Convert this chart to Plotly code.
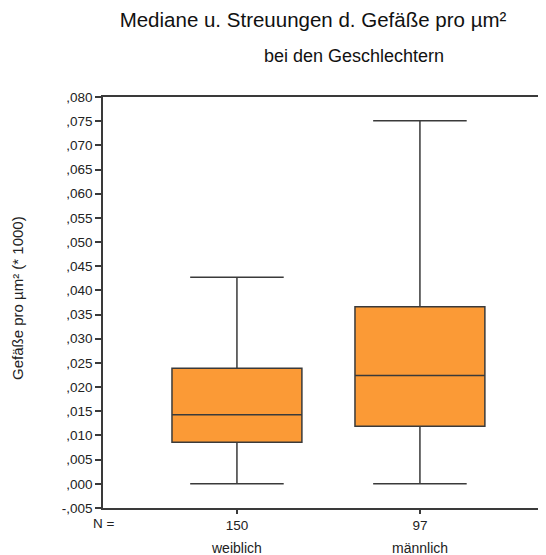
import plotly.graph_objects as go

categories = ["weiblich", "männlich"]
n_values = ["150", "97"]
lower_whisker = [0.0, 0.0]
q1_values = [0.0086, 0.0119]
median_values = [0.0143, 0.0224]
q3_values = [0.0239, 0.0366]
upper_whisker = [0.0427, 0.0751]
y_tick_vals = [-0.005, 0.0, 0.005, 0.010, 0.015, 0.020, 0.025, 0.030, 0.035,
               0.040, 0.045, 0.050, 0.055, 0.060, 0.065, 0.070, 0.075, 0.080]
y_tick_text = ["-,005", ",000", ",005", ",010", ",015", ",020", ",025", ",030", ",035",
               ",040", ",045", ",050", ",055", ",060", ",065", ",070", ",075", ",080"]

FONT = "Liberation Sans, Arial, sans-serif"
LINE = "#3a3a3a"

# page body has an 8px margin, so the figure is 8px smaller and shifted
W, H = 538, 547
L, T, B = 95, 89, 47
PH = H - T - B

fig = go.Figure()
fig.add_trace(go.Box(
    x=categories,
    q1=q1_values, median=median_values, q3=q3_values,
    lowerfence=lower_whisker, upperfence=upper_whisker,
    fillcolor="#fb9a36",
    line=dict(color=LINE, width=1.5),
    width=0.71,
    whiskerwidth=0.72,
    boxpoints=False,
    showlegend=False,
    hoverinfo="skip",
))

for c in categories:
    fig.add_annotation(x=c, xref="x", y=-0.005, yref="y", yshift=-40,
                       text=c, showarrow=False, yanchor="middle",
                       font=dict(family=FONT, size=14, color="#222"))

fig.add_annotation(x=0, xref="paper", y=-0.005, yref="y", yshift=-15,
                   xanchor="center", xshift=1,
                   text="N =", showarrow=False, yanchor="middle",
                   font=dict(family=FONT, size=13.5, color="#222"))

fig.add_annotation(x=(313 - 8) / W, xref="paper", y=1 + (97 - 56) / PH, yref="paper",
                   text="bei den Geschlechtern", showarrow=False, yanchor="middle",
                   xanchor="center",
                   font=dict(family=FONT, size=18, color="#111"))

fig.add_annotation(x=0, xref="paper", xshift=-(L - 9), xanchor="center",
                   y=(500 - 290) / PH, yref="paper", yanchor="middle",
                   text="Gefäße pro µm² (* 1000)", textangle=-90, showarrow=False,
                   font=dict(family=FONT, size=15, color="#222"))

fig.update_layout(
    width=W, height=H,
    margin=dict(l=L, r=0, t=T, b=B),
    paper_bgcolor="white", plot_bgcolor="white",
    title=dict(text="Mediane u. Streuungen d. Gefäße pro µm²",
               x=(313 - 8) / W, xref="container", xanchor="center",
               y=1 - 12 / H, yref="container", yanchor="middle",
               font=dict(family=FONT, size=20.5, color="#111")),
    xaxis=dict(
        type="category",
        range=[-0.732, 1.689],
        tickmode="array",
        tickvals=categories,
        ticktext=n_values,
        ticks="outside", ticklen=4, tickcolor=LINE, tickwidth=1.5,
        showline=True, linecolor=LINE, linewidth=1.5,
        mirror=True,
        showgrid=False, zeroline=False,
        tickfont=dict(family=FONT, size=13.5, color="#222"),
    ),
    yaxis=dict(
        range=[-0.005, 0.080],
        tickmode="array",
        tickvals=y_tick_vals,
        ticktext=y_tick_text,
        ticks="outside", ticklen=6, tickcolor=LINE, tickwidth=1.5,
        showline=True, linecolor=LINE, linewidth=1.5,
        showgrid=False, zeroline=False,
        tickfont=dict(family=FONT, size=13.5, color="#222"),
    ),
)

fig.write_html("out.html")
